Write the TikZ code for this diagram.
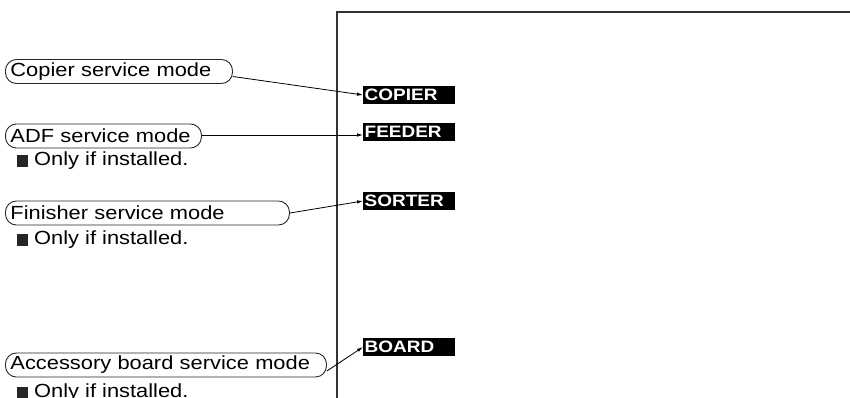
\documentclass[tikz,border=0pt]{standalone}
\usepackage{fontspec}
\setmainfont{Liberation Sans}[FakeStretch=1.15]
\usetikzlibrary{arrows.meta}
\begin{document}
\begin{tikzpicture}[x=1pt,y=-1pt,
  modebox/.style={draw=black!85, line width=0.9pt, rounded corners=11pt,
    minimum height=24pt, inner xsep=5pt, inner ysep=0pt, align=left,
    anchor=west, font=\fontsize{19}{22}\selectfont},
  lblbox/.style={fill=black, text=white, minimum height=18pt, text width=89pt,
    inner xsep=1.5pt, inner ysep=0pt, align=left, anchor=west,
    font=\fontsize{16.5}{18}\selectfont\bfseries},
  note/.style={anchor=west, inner sep=0pt, font=\fontsize{19}{22}\selectfont},
  arr/.style={line width=0.8pt, -{Latex[length=6pt,width=3.5pt]}},
  frame/.style={line width=1.2pt, draw=black!80}]
\useasboundingbox (0,0) rectangle (850,398);
\clip (0,0) rectangle (850,398);
\coordinate (ftop) at (337,12);
\coordinate (fright) at (851,12);
\coordinate (fbot) at (337,399);
\draw[frame] (fbot) -- (ftop) -- (fright);

\node[modebox, text width=217pt] (copier) at (5,71.5) {Copier service mode};
\node[lblbox] (lcopier) at (363,95) {COPIER};
\draw[arr] ([yshift=-5pt]copier.east) -- (lcopier.west);

\node[modebox, text width=186pt] (adf) at (5,136) {ADF service mode};
\node[lblbox] (lfeeder) at (363,132) {FEEDER};
\node[note] (n1) at (17,161) {\textcolor{black!85}{\rule[-1pt]{11pt}{12pt}}\hspace{6pt}Only if installed.};
\coordinate (adfarr) at ([yshift=1pt]adf.east);
\draw[arr] (adfarr) -- (lfeeder.west |- adfarr);

\node[modebox, text width=274pt] (fin) at (5,213) {Finisher service mode};
\node[lblbox] (lsorter) at (363,201) {SORTER};
\node[note] (n2) at (17,240) {\textcolor{black!85}{\rule[-1pt]{11pt}{12pt}}\hspace{6pt}Only if installed.};
\draw[arr] (fin.east) -- (lsorter.west);

\node[modebox, text width=311pt] (acc) at (5,365) {Accessory board service mode};
\node[lblbox] (lboard) at (363,347) {BOARD};
\node[note] (n3) at (17,393) {\textcolor{black!85}{\rule[-1pt]{11pt}{12pt}}\hspace{6pt}Only if installed.};
\draw[arr] ([yshift=-6pt]acc.east) -- (lboard.west);
\end{tikzpicture}
\end{document}
